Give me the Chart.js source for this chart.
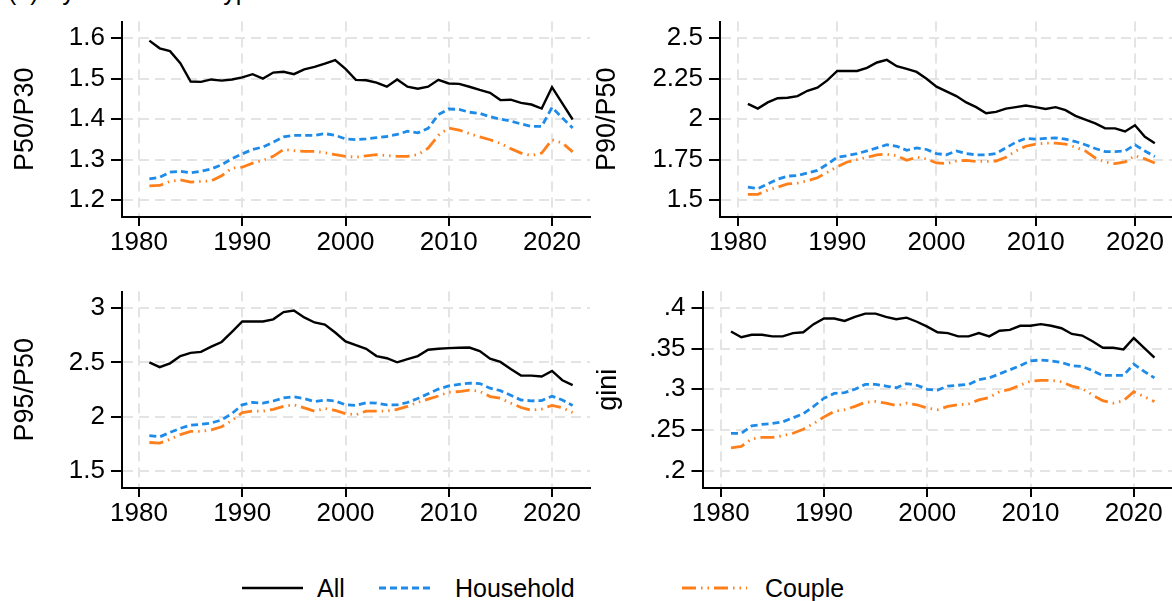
<!DOCTYPE html>
<html>
<head>
<meta charset="utf-8">
<script src="https://cdn.jsdelivr.net/npm/chart.js@4.4.1/dist/chart.umd.min.js"></script>
<style>
  body { margin: 0; background: #fff; width: 1172px; height: 601px; overflow: hidden; position: relative; font-family: 'Liberation Sans', Arial, sans-serif; color: #000; }
  canvas { position: absolute; }
  .title { position: absolute; left: 8px; top: -21px; font-size: 25px; line-height: 25px; white-space: nowrap; }
  .leg { position: absolute; top: 572px; height: 32px; font-size: 25px; line-height: 32px; white-space: nowrap; }
</style>
</head>
<body>
<div class="title">(a) By income unit type</div>

<canvas id="tl" width="600" height="270" style="left:0;top:0"></canvas>
<canvas id="tr" width="584" height="270" style="left:588px;top:0"></canvas>
<canvas id="bl" width="600" height="290" style="left:0;top:270px"></canvas>
<canvas id="br" width="584" height="290" style="left:588px;top:270px"></canvas>

<div id="legend" style="position:absolute;left:0;top:0"></div>

<script>
/*--------------------DATA--------------------*/
const years = [1981, 1982, 1983, 1984, 1985, 1986, 1987, 1988, 1989, 1990,
               1991, 1992, 1993, 1994, 1995, 1996, 1997, 1998, 1999, 2000,
               2001, 2002, 2003, 2004, 2005, 2006, 2007, 2008, 2009, 2010,
               2011, 2012, 2013, 2014, 2015, 2016, 2017, 2018, 2019, 2020,
               2021, 2022];
const seriesNames = ['All', 'Household', 'Couple'];

const p5030All = [1.594, 1.575, 1.568, 1.538, 1.493, 1.492, 1.498, 1.495, 1.498, 1.503,
                  1.511, 1.500, 1.515, 1.517, 1.511, 1.523, 1.529, 1.537, 1.546, 1.524,
                  1.497, 1.496, 1.490, 1.480, 1.498, 1.480, 1.475, 1.480, 1.497, 1.488,
                  1.487, 1.480, 1.472, 1.465, 1.447, 1.448, 1.440, 1.436, 1.426, 1.479,
                  1.439, 1.399];
const p5030Household = [1.252, 1.256, 1.269, 1.271, 1.267, 1.271, 1.277, 1.287, 1.302, 1.314,
                        1.325, 1.331, 1.343, 1.356, 1.360, 1.360, 1.360, 1.364, 1.360, 1.351,
                        1.349, 1.351, 1.354, 1.357, 1.362, 1.370, 1.366, 1.377, 1.411, 1.425,
                        1.424, 1.417, 1.414, 1.406, 1.400, 1.395, 1.388, 1.382, 1.382, 1.429,
                        1.403, 1.378];
const p5030Couple = [1.235, 1.236, 1.246, 1.250, 1.244, 1.246, 1.247, 1.260, 1.279, 1.281,
                     1.291, 1.298, 1.308, 1.325, 1.322, 1.320, 1.320, 1.317, 1.312, 1.308,
                     1.306, 1.309, 1.312, 1.310, 1.308, 1.308, 1.312, 1.328, 1.360, 1.378,
                     1.373, 1.364, 1.356, 1.349, 1.340, 1.327, 1.316, 1.310, 1.316, 1.349,
                     1.341, 1.319];

const p9050All = [2.094, 2.065, 2.103, 2.129, 2.132, 2.142, 2.175, 2.194, 2.239, 2.297,
                  2.297, 2.297, 2.316, 2.349, 2.365, 2.326, 2.310, 2.291, 2.249, 2.200,
                  2.171, 2.142, 2.103, 2.074, 2.036, 2.045, 2.065, 2.074, 2.084, 2.074,
                  2.063, 2.074, 2.055, 2.020, 1.997, 1.974, 1.943, 1.943, 1.924, 1.962,
                  1.891, 1.852];
const p9050Household = [1.581, 1.572, 1.601, 1.630, 1.649, 1.653, 1.668, 1.684, 1.722, 1.765,
                        1.775, 1.788, 1.804, 1.823, 1.842, 1.833, 1.808, 1.823, 1.813, 1.788,
                        1.780, 1.804, 1.788, 1.780, 1.780, 1.788, 1.823, 1.858, 1.881, 1.877,
                        1.881, 1.885, 1.877, 1.862, 1.842, 1.819, 1.800, 1.800, 1.804, 1.842,
                        1.804, 1.769];
const p9050Couple = [1.537, 1.537, 1.562, 1.581, 1.601, 1.606, 1.620, 1.639, 1.672, 1.707,
                     1.736, 1.750, 1.765, 1.780, 1.784, 1.775, 1.746, 1.765, 1.755, 1.730,
                     1.726, 1.742, 1.746, 1.740, 1.740, 1.742, 1.765, 1.804, 1.833, 1.846,
                     1.852, 1.852, 1.846, 1.827, 1.804, 1.761, 1.736, 1.726, 1.736, 1.775,
                     1.755, 1.730];

const p9550All = [2.501, 2.457, 2.492, 2.559, 2.588, 2.597, 2.646, 2.689, 2.782, 2.878,
                  2.878, 2.878, 2.898, 2.965, 2.979, 2.916, 2.869, 2.849, 2.776, 2.695,
                  2.660, 2.626, 2.559, 2.539, 2.501, 2.530, 2.559, 2.617, 2.626, 2.632,
                  2.635, 2.638, 2.605, 2.535, 2.505, 2.440, 2.380, 2.378, 2.370, 2.422,
                  2.336, 2.291];
const p9550Household = [1.825, 1.813, 1.854, 1.892, 1.921, 1.929, 1.941, 1.970, 2.028, 2.109,
                        2.132, 2.124, 2.144, 2.173, 2.182, 2.167, 2.138, 2.153, 2.144, 2.109,
                        2.103, 2.127, 2.124, 2.109, 2.109, 2.130, 2.167, 2.211, 2.254, 2.283,
                        2.298, 2.309, 2.305, 2.262, 2.240, 2.197, 2.153, 2.146, 2.148, 2.189,
                        2.153, 2.102];
const p9550Couple = [1.761, 1.755, 1.790, 1.834, 1.863, 1.863, 1.877, 1.906, 1.964, 2.037,
                     2.051, 2.051, 2.066, 2.095, 2.109, 2.080, 2.051, 2.074, 2.057, 2.028,
                     2.016, 2.051, 2.051, 2.051, 2.066, 2.095, 2.132, 2.161, 2.190, 2.226,
                     2.231, 2.245, 2.233, 2.185, 2.170, 2.125, 2.084, 2.058, 2.070, 2.104,
                     2.081, 2.038];

const giniAll = [0.371, 0.364, 0.367, 0.367, 0.365, 0.365, 0.369, 0.370, 0.380, 0.387,
                 0.387, 0.384, 0.389, 0.393, 0.393, 0.389, 0.386, 0.388, 0.383, 0.377,
                 0.370, 0.369, 0.365, 0.365, 0.369, 0.365, 0.372, 0.373, 0.378, 0.378,
                 0.380, 0.378, 0.375, 0.368, 0.366, 0.359, 0.351, 0.351, 0.349, 0.363,
                 0.351, 0.339];
const giniHousehold = [0.246, 0.246, 0.255, 0.257, 0.258, 0.260, 0.265, 0.270, 0.279, 0.289,
                       0.295, 0.296, 0.300, 0.306, 0.306, 0.304, 0.302, 0.307, 0.305, 0.300,
                       0.299, 0.304, 0.305, 0.306, 0.312, 0.314, 0.319, 0.324, 0.329, 0.335,
                       0.336, 0.335, 0.333, 0.329, 0.328, 0.323, 0.317, 0.317, 0.317, 0.331,
                       0.322, 0.314];
const giniCouple = [0.228, 0.230, 0.239, 0.241, 0.241, 0.243, 0.246, 0.251, 0.258, 0.266,
                    0.273, 0.275, 0.279, 0.284, 0.285, 0.283, 0.280, 0.283, 0.281, 0.277,
                    0.275, 0.279, 0.281, 0.282, 0.287, 0.290, 0.297, 0.300, 0.305, 0.310,
                    0.311, 0.311, 0.309, 0.304, 0.301, 0.293, 0.286, 0.283, 0.286, 0.297,
                    0.291, 0.285];

const xTicks = [1980, 1990, 2000, 2010, 2020];
const p5030Ticks = [1.2, 1.3, 1.4, 1.5, 1.6];
const p5030TickLabels = ['1.2', '1.3', '1.4', '1.5', '1.6'];
const p9050Ticks = [1.5, 1.75, 2, 2.25, 2.5];
const p9050TickLabels = ['1.5', '1.75', '2', '2.25', '2.5'];
const p9550Ticks = [1.5, 2, 2.5, 3];
const p9550TickLabels = ['1.5', '2', '2.5', '3'];
const giniTicks = [0.2, 0.25, 0.3, 0.35, 0.4];
const giniTickLabels = ['.2', '.25', '.3', '.35', '.4'];

/*--------------------STYLE--------------------*/
const FONT = 'Liberation Sans, Arial, sans-serif';
const BLUE = '#1f8be8';
const ORANGE = '#ff7f1a';
const GRID = '#e4e4e4';
const lineStyles = [
    { color: '#000', width: 2.4, dash: [] },
    { color: BLUE, width: 2.8, dash: [7, 4] },
    { color: ORANGE, width: 2.8, dash: [14, 5, 1.5, 5, 1.5, 5] }
];

/*--------------------METHOD--------------------*/
function toPoints(values) {
    return values.map((v, i) => ({ x: years[i], y: v }));
}

function buildPanel(id, yTitle, values, yTicks, yLabels, box) {
    let datasets = values.map((vals, i) => ({
        label: seriesNames[i],
        data: toPoints(vals),
        borderColor: lineStyles[i].color,
        borderWidth: lineStyles[i].width,
        borderDash: lineStyles[i].dash,
        pointRadius: 0,
        tension: 0,
        fill: false
    }));
    return new Chart(document.getElementById(id), {
        type: 'line',
        data: { datasets: datasets },
        options: {
            responsive: false,
            animation: false,
            devicePixelRatio: 1,
            layout: { padding: { top: box.padTop, right: box.padRight, left: 0, bottom: 0 } },
            plugins: { legend: { display: false }, tooltip: { enabled: false } },
            scales: {
                x: {
                    type: 'linear',
                    min: box.xMin,
                    max: box.xMax,
                    afterBuildTicks: (s) => { s.ticks = xTicks.map((v) => ({ value: v })); },
                    afterFit: (s) => { s.height = box.xHeight; },
                    grid: { color: GRID, lineWidth: 2, tickLength: 9, tickColor: '#000', tickWidth: 2, tickBorderDash: [] },
                    border: { color: '#000', width: 2, dash: [10, 6] },
                    ticks: {
                        font: { family: FONT, size: 26 }, color: '#000', padding: 1,
                        maxRotation: 0, autoSkip: false,
                        callback: (v) => String(v)
                    }
                },
                y: {
                    min: box.yMin,
                    max: box.yMax,
                    afterBuildTicks: (s) => { s.ticks = yTicks.map((v) => ({ value: v })); },
                    afterFit: (s) => { s.width = box.yWidth; },
                    grid: { color: GRID, lineWidth: 2, tickLength: 11, tickColor: '#000', tickWidth: 2, tickBorderDash: [] },
                    border: { color: '#000', width: 2, dash: [10, 6] },
                    ticks: {
                        font: { family: FONT, size: 26 }, color: '#000', padding: 6, autoSkip: false,
                        callback: (v, i) => yLabels[i]
                    },
                    title: {
                        display: true, text: yTitle, color: '#000',
                        font: { family: FONT, size: 27, lineHeight: 1 },
                        padding: { top: box.titlePad, bottom: 0 }
                    }
                }
            }
        }
    });
}

function buildLegend() {
    let items = [
        { x1: 242, x2: 303, tx: 317 },
        { x1: 379, x2: 434, tx: 455 },
        { x1: 682, x2: 747, tx: 765 }
    ];
    let html = '';
    items.forEach((it, i) => {
        let st = lineStyles[i];
        let w = it.x2 - it.x1;
        html += `<svg style="position:absolute;top:572px;left:${it.x1}px" width="${w}" height="32">` +
                `<line x1="0" y1="16" x2="${w}" y2="16" stroke="${st.color}" stroke-width="${st.width}" stroke-dasharray="${st.dash.join(' ') || 'none'}"/></svg>` +
                `<div class="leg" style="left:${it.tx}px">${seriesNames[i]}</div>`;
    });
    document.getElementById('legend').innerHTML = html;
}

/*--------------------PANELS--------------------*/
buildPanel('tl', 'P50/P30', [p5030All, p5030Household, p5030Couple], p5030Ticks, p5030TickLabels,
    { padTop: 9, padRight: 10, xHeight: 53, yWidth: 122, titlePad: 12,
      xMin: 1978.35, xMax: 2023.68, yMin: 1.158, yMax: 1.641 });
buildPanel('tr', 'P90/P50', [p9050All, p9050Household, p9050Couple], p9050Ticks, p9050TickLabels,
    { padTop: 9, padRight: 0, xHeight: 53, yWidth: 132, titlePad: 6,
      xMin: 1978.19, xMax: 2023.73, yMin: 1.397, yMax: 2.601 });
buildPanel('bl', 'P95/P50', [p9550All, p9550Household, p9550Couple], p9550Ticks, p9550TickLabels,
    { padTop: 10, padRight: 10, xHeight: 72, yWidth: 122, titlePad: 12,
      xMin: 1978.35, xMax: 2023.68, yMin: 1.341, yMax: 3.154 });
buildPanel('br', 'gini', [giniAll, giniHousehold, giniCouple], giniTicks, giniTickLabels,
    { padTop: 10, padRight: 0, xHeight: 72, yWidth: 114.5, titlePad: 7,
      xMin: 1978.24, xMax: 2023.70, yMin: 0.1788, yMax: 0.42 });

buildLegend();
</script>
</body>
</html>
